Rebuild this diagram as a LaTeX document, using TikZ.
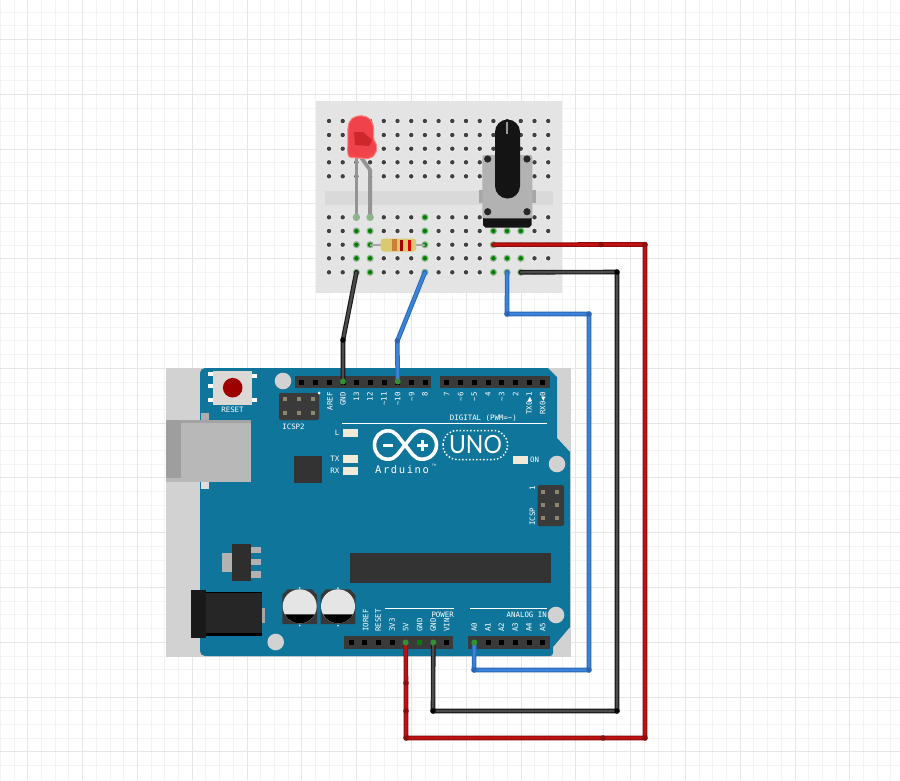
\documentclass[tikz,border=0pt]{standalone}
\usepackage{fontspec}
\newfontfamily\boardfont{DejaVu Sans Mono}
\newfontfamily\logofont[LetterSpace=15]{DejaVu Sans Mono}
\newfontfamily\unofont[FakeStretch=0.92]{Lato}
\definecolor{gridminor}{HTML}{F3F3F6}
\definecolor{gridmajor}{HTML}{E6E6EA}
\definecolor{breadboard}{HTML}{E4E4E4}
\definecolor{boardteal}{HTML}{10759B}
\definecolor{boardgrey}{HTML}{D2D2D2}
\definecolor{headerdark}{HTML}{3A3A3A}
\definecolor{pingold}{HTML}{8F8670}
\definecolor{ledcream}{HTML}{F2EAD8}
\definecolor{ledred}{HTML}{F0424A}
\definecolor{wirered}{HTML}{C01010}
\definecolor{wireredrim}{HTML}{8A0E0E}
\definecolor{wireblue}{HTML}{3A85DA}
\definecolor{wirebluerim}{HTML}{2A66B4}
\tikzset{
    boardtext/.style={font=\boardfont\fontsize{7.4}{8}\selectfont, text=white, inner sep=0pt},
    pinlabel/.style={boardtext, rotate=90},
    wire/.style={line width=4.6pt, line cap=round, line join=round},
    redwire/.style={wire, draw=wireredrim, postaction={draw=wirered, line width=2.6pt}},
    blackwire/.style={wire, draw=black!90, postaction={draw=black!70, line width=2.4pt}},
    bluewire/.style={wire, draw=wirebluerim, postaction={draw=wireblue, line width=2.6pt}},
}
\begin{document}
\begin{tikzpicture}[x=1pt, y=-1pt]
    \useasboundingbox[fill=white] (0,0) rectangle (900,780);

    % Grid
    \foreach \i in {0,...,65} {
        \draw[gridminor, line width=0.8pt] ({0.3+13.7*\i},0) -- ({0.3+13.7*\i},780);
    }
    \foreach \i in {0,...,56} {
        \draw[gridminor, line width=0.8pt] (0,{12-13.7+13.7*\i}) -- (900,{12-13.7+13.7*\i});
    }
    \foreach \i in {0,...,16} {
        \draw[gridmajor, line width=0.8pt] ({27.7+54.8*\i},0) -- ({27.7+54.8*\i},780);
    }
    \foreach \i in {0,...,14} {
        \draw[gridmajor, line width=0.8pt] (0,{39.3+54.8*\i}) -- (900,{39.3+54.8*\i});
    }

    % Breadboard
    \fill[breadboard] (316,101) rectangle (562,293);
    \fill[black!15] (325,190.5) rectangle (553,204.5);
    \foreach \x in {0,...,16} {
        \foreach \y in {121,135,148.7,162.3,176.3,217.3,231,244.7,258.3,272.3} {
            \fill[white!85!gray] ({329+13.7*\x},\y) circle (3.4);
            \fill[black!75] ({329+13.7*\x},\y) circle (2.2);
        }
    }
    % Connected holes
    \foreach \x/\y in {356.4/217.3,356.4/231,356.4/244.7,356.4/258.3,356.4/272.3,
                       370.1/217.3,370.1/231,370.1/244.7,370.1/258.3,370.1/272.3,
                       424.9/217.3,424.9/231,424.9/244.7,424.9/258.3,424.9/272.3,
                       493.4/231,507.1/231,520.8/231,
                       493.4/258.3,507.1/258.3,520.8/258.3,
                       493.4/244.7,493.4/272.3,507.1/272.3,520.8/272.3} {
        \fill[green!35!black!45!white] (\x,\y) circle (3.6);
        \fill[green!50!black] (\x,\y) circle (2.2);
    }

    % LED
    \fill[black!42] (354.5,156) rectangle (358.3,217);
    \draw[black!42, line width=3.8pt, line join=round] (361.5,158) -- (370.1,170) -- (370.1,217);
    \fill[green!35!black!45!white] (356.4,217.3) circle (3.6) (370.1,217.3) circle (3.6);
    \fill[ledred, draw=red!50!white, line width=1pt] (352,157.5) .. controls (348,157.5) and (347.7,155) .. (347.7,150)
        -- (348,128) .. controls (348.5,119) and (354,115.7) .. (361,115.7)
        .. controls (368,115.7) and (373,120) .. (373.5,128) -- (373.8,140)
        .. controls (377,143) and (377.5,149) .. (376,152)
        .. controls (374,157) and (370,159) .. (365,158.5) -- cycle;
    \fill[white!30!red, fill opacity=0.5] (350,153) .. controls (358,157) and (366,157) .. (373,153) -- (373,157) -- (350,157) -- cycle;
    \fill[red!60!black, fill opacity=0.4] (354,132) -- (363,132) -- (372,140) -- (369,146) -- (355,145) -- cycle;

    % Resistor
    \coordinate (resA) at (370.1,244.7);
    \coordinate (resB) at (424.9,244.7);
    \draw[black!35, line width=2pt] (resA) -- (resB);
    \fill[orange!35!yellow!60!gray!70!white, rounded corners=3pt] (380.7,238.5) rectangle (416,251.5);
    \fill[orange!75!black!80] (392,238.8) rectangle (397,251.2);
    \fill[red!65!black] (399.5,239.5) rectangle (403,250.5);
    \fill[red!85!black] (407.5,239.5) rectangle (411,250.5);

    % Potentiometer
    \fill[black!35] (479,190) rectangle (535.5,203);
    \fill[black!92] (483,212) -- (531.7,212) -- (531.7,225) -- (529,227.7) -- (485.5,227.7) -- (483,225) -- cycle;
    \fill[black!30, rounded corners=2pt] (482.3,155) rectangle (532.3,218.3);
    \fill[black!92] (495,132) arc (180:360:12.5) -- (520,186) arc (0:180:12.5) -- cycle;
    \fill[black!40] (506,122) rectangle (508,134);
    \foreach \x/\y in {487.7/159,527/159,487.7/211.7,527/211.7} {
        \fill[black!85] (\x,\y) circle (3.6);
    }

    % Arduino
    \fill[boardgrey] (166,368) rectangle (571,657);
    \fill[boardteal] (200,656) [rounded corners=5pt] -- (200,368) [sharp corners] -- (548,368) -- (557,377) -- (557,438)
        -- (570,452) -- (570,627) -- (553,647) [rounded corners=3pt] -- (553,656) [rounded corners=5pt] -- cycle;

    % Mounting holes
    \foreach \x/\y in {283/381,557/464,556/615,275.7/642} {
        \fill[boardgrey] (\x,\y) circle (8.3);
    }

    % USB
    \fill[black!32] (200.7,412.7) rectangle (209,420);
    \fill[black!13] (200.7,481.7) rectangle (209,489);
    \fill[black!28] (166,420) rectangle (251,481.7);
    \fill[black!38] (166,420) rectangle (181,478);
    \fill[black!36] (181,420) rectangle (251,423);

    % Reset
    \foreach \y in {374,386,400} {
        \fill[white] (208,{\y-2}) rectangle (213,{\y+2});
    }
    \foreach \y in {376,400} {
        \fill[white] (252,{\y-2}) rectangle (257,{\y+2});
    }
    \fill[black!5!orange!8!gray!30!white] (213,371) rectangle (252,405);
    \fill[red!62!black] (232.7,387.7) circle (9.8);
    \node[boardtext] (resetlabel) at (232.5,410) {RESET};

    % ICSP2
    \fill[headerdark, rounded corners=2pt] (279,393) rectangle (319,420);
    \foreach \x in {285.3,299,312.7} {
        \foreach \y in {399.3,413.3} {
            \fill[pingold] ({\x-2},{\y-2}) rectangle ({\x+2},{\y+2});
        }
    }
    \fill[white] (319.2,393) circle (1.5);
    \node[boardtext] (icsptwo) at (293.5,426.5) {ICSP2};

    % Status leds
    \foreach \x/\y in {343/429,343/455,343/467,513/456} {
        \fill[ledcream] (\x,\y) rectangle ({\x+15},{\y+7.5});
    }
    \node[boardtext, anchor=east] (ledL) at (339.5,433) {L};
    \node[boardtext, anchor=east] (ledTX) at (339.5,459) {TX};
    \node[boardtext, anchor=east] (ledRX) at (339.5,471) {RX};
    \node[boardtext, anchor=west] (ledON) at (530,459.5) {ON};

    % Chips
    \fill[black!80] (294,456) rectangle (322,483);
    \fill[black!80] (350,553) rectangle (551,583);

    % Regulator
    \fill[black!30] (222,552.7) rectangle (232,572);
    \foreach \y in {546.7,559,571.3} {
        \fill[black!30] (251,\y) rectangle (260.7,{\y+6.2});
    }
    \fill[black!82] (232,544) rectangle (251.3,580.7);

    % Barrel jack
    \fill[black!35] (262,608) rectangle (265,622.7);
    \fill[black] (205.7,591.7) rectangle (262.3,636);
    \fill[black!85] (205.7,593) rectangle (262.3,632.5);
    \fill[black!90] (191,590) rectangle (205.7,638);

    % Capacitors
    \foreach \x in {299.7,338} {
        \fill[black!78] ({\x-17.4},595) -- ({\x-12},589.3) -- ({\x+12},589.3) -- ({\x+17.4},595) -- ({\x+17.4},624) -- ({\x-17.4},624) -- cycle;
        \fill[black!10] (\x,606.3) circle (17);
        \fill[black] ({\x-14.97},614.36) -- ({\x+14.97},614.36) arc (28.3:151.7:17) -- cycle;
        \fill[black!15] (\x,588) circle (1) (\x,625.5) circle (1);
    }

    % Headers
    \fill[headerdark] (295,376) rectangle (431,388);
    \fill[headerdark] (440,376) rectangle (550,388);
    \fill[headerdark] (344,636) rectangle (453,649);
    \fill[headerdark] (468,636) rectangle (550,649);
    \foreach \x in {301.5,315.2,329,343,356.5,370,384,397.7,411.7,425,446.7,460.7,474.3,488,501.7,515.7,529.3,542.7} {
        \fill[black] ({\x-2.5},379.5) rectangle ({\x+2.5},384.5);
    }
    \foreach \x in {351,364.3,378.3,392.3,405.7,419.7,433.3,446.7,474.3,488,501.3,515.3,529,542.7} {
        \fill[black] ({\x-2.5},640) rectangle ({\x+2.5},645);
    }
    \foreach \x in {405.7,419.7,433.3,474.3} {
        \fill[green!50!black] ({\x-2.5},640) rectangle ({\x+2.5},645);
    }

    % Pin labels
    \foreach \x/\t/\n in {330/AREF/a,343/GND/b,356.5/13/c,370/12/d,384/\textasciitilde11/e,397.7/\textasciitilde10/f,411.7/\textasciitilde9/g,425/8/h,
                       446.7/7/i,460.7/\textasciitilde6/j,474.3/\textasciitilde5/k,488/4/l,501.7/\textasciitilde3/m,515.7/2/n,529.3/TX0▶1/o,542.7/RX0◀0/p} {
        \node[pinlabel, anchor=east] (top\n) at (\x,392) {\t};
    }
    \foreach \x/\t/\n in {365.7/IOREF/a,378.3/RESET/b,392.3/3V3/c,405.7/5V/d,419.7/GND/e,433.3/GND/f,446.7/VIN/g,
                       474.3/A0/h,488/A1/i,501.3/A2/j,515.3/A3/k,529/A4/l,542.7/A5/m} {
        \node[pinlabel, anchor=west] (bot\n) at (\x,632) {\t};
    }
    \draw[white, line width=1.5pt] (342,423.7) -- (547,423.7);
    \node[boardtext, anchor=east] (digital) at (517,417.7) {DIGITAL (PWM=\textasciitilde)};
    \draw[white, line width=1pt] (385,608) -- (454,608);
    \node[boardtext, anchor=east] (power) at (454,614.7) {POWER};
    \draw[white, line width=1pt] (470,608) -- (547,608);
    \node[boardtext, anchor=east] (analog) at (547,614.7) {ANALOG IN};

    % ICSP
    \fill[headerdark, rounded corners=2pt] (537.7,485) rectangle (564,526);
    \foreach \x in {543.3,557.3} {
        \foreach \y in {491.7,505,518.3} {
            \fill[pingold] ({\x-2},{\y-2}) rectangle ({\x+2},{\y+2});
        }
    }
    \node[pinlabel] (icspone) at (532.5,488) {1};
    \node[pinlabel, anchor=west] (icsp) at (532.5,526) {ICSP};

    % Logo
    \draw[white, line width=3.6pt] (405,445) .. controls (398,437) and (396,430.8) .. (388,430.8)
        .. controls (380,430.8) and (374.5,437) .. (374.5,445)
        .. controls (374.5,453) and (380,459.2) .. (388,459.2)
        .. controls (396,459.2) and (398,453) .. (405,445)
        .. controls (412,437) and (414,430.8) .. (422,430.8)
        .. controls (430,430.8) and (436.5,437) .. (436.5,445)
        .. controls (436.5,453) and (430,459.2) .. (422,459.2)
        .. controls (414,459.2) and (412,453) .. (405,445) -- cycle;
    \fill[white] (383,443.5) rectangle (393,446.5);
    \fill[white] (416.5,443.5) rectangle (427.5,446.5);
    \fill[white] (420.5,439.5) rectangle (423.5,450.5);
    \draw[white, line width=1.5pt, dotted, rounded corners=14pt] (443,430.5) rectangle (507.5,459.5);
    \node[inner sep=0pt, text=white, font=\unofont\fontsize{25}{26}\selectfont] (uno) at (475.5,445) {UNO};
    \node[boardtext, font=\logofont\fontsize{10.5}{11}\selectfont, anchor=west] (arduino) at (375,470) {Arduino};
    \node[boardtext, font=\boardfont\fontsize{3}{3}\selectfont] (tmark) at (434,465.5) {TM};

    % Wires
    \coordinate (gndtop) at (343,381);
    \coordinate (pintop) at (397.7,381);
    \coordinate (gndpow) at (433.3,643);
    \coordinate (vcc) at (405.7,643);
    \coordinate (ana) at (474.3,643);
    \coordinate (bbgnd) at (356.4,272.3);
    \coordinate (bbpin) at (424.9,272.3);
    \coordinate (potvcc) at (493.4,244.7);
    \coordinate (potwiper) at (507.1,272.3);
    \coordinate (potgnd) at (520.8,272.3);

    \draw[blackwire] (bbgnd) -- (343,340) -- (gndtop);
    \draw[bluewire] (bbpin) -- (397.3,341) -- (pintop);
    \draw[redwire] (potvcc) -- (601,244.5) -- (645,244.5) -- (645,738) -- (603,738) -- (406,738) -- (406,711) -- (406,683) -- (vcc);
    \draw[blackwire] (potgnd) -- (617,272) -- (617,711) -- (433,711) -- (gndpow);
    \draw[bluewire] (potwiper) -- (507,314) -- (589,314) -- (589,670) -- (474,670) -- (ana);
    % Bend points
    \foreach \x/\y in {601/244.5,645/244.5,645/738,603/738,406/738,406/711,406/683} {
        \fill[wireredrim] (\x,\y) circle (2.8);
    }
    \foreach \x/\y in {617/272,617/711,433/711,343/340} {
        \fill[black] (\x,\y) circle (2.8);
    }
    \foreach \x/\y in {507/314,589/314,589/670,474/670,397.3/341} {
        \fill[wirebluerim] (\x,\y) circle (2.8);
    }
    % Pins under the wire ends
    \fill[green!45!black!80] (343,381.5) circle (3) (397.7,381.5) circle (3);
    \fill[green!45!black!80] (405.7,642.5) circle (3) (433.3,642.5) circle (3) (474.3,642.5) circle (3);
\end{tikzpicture}
\end{document}
